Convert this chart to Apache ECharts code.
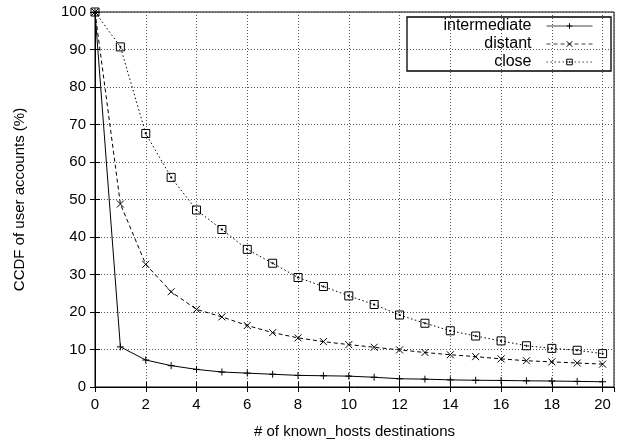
<!DOCTYPE html>
<html>
<head>
<meta charset="utf-8">
<script src="https://cdn.jsdelivr.net/npm/echarts@6/dist/echarts.min.js"></script>
<style>html,body{margin:0;padding:0;background:#fff}#c{width:625px;height:445px}</style>
</head>
<body>
<div id="c"></div>
<script>
var xValues = [0,1,2,3,4,5,6,7,8,9,10,11,12,13,14,15,16,17,18,19,20];
var intermediate = [100,10.7,7.2,5.7,4.7,4.0,3.7,3.4,3.1,3.0,2.9,2.6,2.2,2.1,1.9,1.8,1.75,1.65,1.6,1.5,1.4];
var distant = [100,48.8,32.7,25.4,20.7,18.7,16.4,14.5,13.1,12.1,11.3,10.6,9.9,9.2,8.6,8.1,7.5,7.0,6.7,6.4,6.1];
var closeS = [100,90.7,67.6,55.9,47.2,42.0,36.7,33.0,29.2,26.8,24.3,22.0,19.2,17.0,15.0,13.6,12.3,11.0,10.3,9.8,8.9];
var seriesNames = ['intermediate','distant','close'];
var xTitle = '# of known_hosts destinations';
var yTitle = 'CCDF of user accounts (%)';

function pairs(arr){ return xValues.map(function(x,i){ return [x, arr[i]]; }); }
var font = '"Liberation Sans", Arial, Helvetica, sans-serif';
var plusPath = 'path://M0,5L10,5M5,0L5,10';
var crossPath = 'path://M0,0L10,10M10,0L0,10';
var sqPath = 'path://M0,0L10,0L10,10L0,10ZM4.3,4.3L5.7,4.3L5.7,5.7L4.3,5.7Z';
var lineTypes = ['solid', [4,3], [1.5,2.5]];

var chart = echarts.init(document.getElementById('c'), null, {renderer:'canvas'});
var axisCommon = {
  axisLine:{show:true, lineStyle:{color:'#000', width:1}},
  axisTick:{show:true, inside:true, length:5, lineStyle:{color:'#000'}},
};
chart.setOption({
  animation:false,
  backgroundColor:'#fff',
  grid:{left:95, top:12, right:11, bottom:58, show:true, borderColor:'#000', borderWidth:1},
  xAxis:[{
    type:'value', min:0, max:20.45, interval:2,
    name:xTitle, nameLocation:'middle', nameGap:37,
    nameTextStyle:{fontFamily:font, fontSize:15, color:'#000'},
    axisLine:axisCommon.axisLine, axisTick:axisCommon.axisTick,
    axisLabel:{fontFamily:font, fontSize:15, color:'#000', margin:10, showMaxLabel:false},
    splitLine:{show:true, lineStyle:{color:'#555', type:[1,2], width:1}}
  },{
    type:'value', min:0, max:20.45, interval:2, position:'top',
    axisLine:{show:false}, axisTick:axisCommon.axisTick, axisLabel:{show:false}, splitLine:{show:false}
  }],
  yAxis:[{
    type:'value', min:0, max:100, interval:10,
    name:yTitle, nameLocation:'middle', nameGap:68,
    nameTextStyle:{fontFamily:font, fontSize:15, color:'#000'},
    axisLine:axisCommon.axisLine, axisTick:axisCommon.axisTick,
    axisLabel:{fontFamily:font, fontSize:15, color:'#000', margin:9},
    splitLine:{show:true, lineStyle:{color:'#555', type:[1,2], width:1}}
  },{
    type:'value', min:0, max:100, interval:10, position:'right',
    axisLine:{show:false}, axisTick:axisCommon.axisTick, axisLabel:{show:false}, splitLine:{show:false}
  }],
  legend:[0,1,2].map(function(i){
    return {
      data:[seriesNames[i]], right:32, top:17 + i*18, align:'right',
      itemWidth:46, itemHeight:7, itemGap:0, padding:[1,0,1,0],
      itemStyle:{color:'none', borderColor:'#000', borderWidth:1},
      lineStyle:{color:'#444', width:1, type:lineTypes[i]},
      textStyle:{fontFamily:font, fontSize:16, color:'#000', padding:[0,10,0,0]},
      selectedMode:false
    };
  }),
  graphic:[{
    type:'rect', shape:{x:407, y:17, width:204, height:54},
    style:{fill:'none', stroke:'#000', lineWidth:1.3}, z:100
  }],
  series:[{
    name:seriesNames[0], type:'line', data:pairs(intermediate),
    symbol:plusPath, symbolSize:7, showAllSymbol:true,
    lineStyle:{color:'#000', width:1, type:lineTypes[0]},
    itemStyle:{color:'none', borderColor:'#000', borderWidth:1}
  },{
    name:seriesNames[1], type:'line', data:pairs(distant),
    symbol:crossPath, symbolSize:7, showAllSymbol:true,
    lineStyle:{color:'#000', width:1, type:lineTypes[1]},
    itemStyle:{color:'none', borderColor:'#000', borderWidth:1}
  },{
    name:seriesNames[2], type:'line', data:pairs(closeS),
    symbol:sqPath, symbolSize:8, showAllSymbol:true,
    lineStyle:{color:'#000', width:1, type:lineTypes[2]},
    itemStyle:{color:'none', borderColor:'#000', borderWidth:1}
  }]
});
</script>
</body>
</html>
